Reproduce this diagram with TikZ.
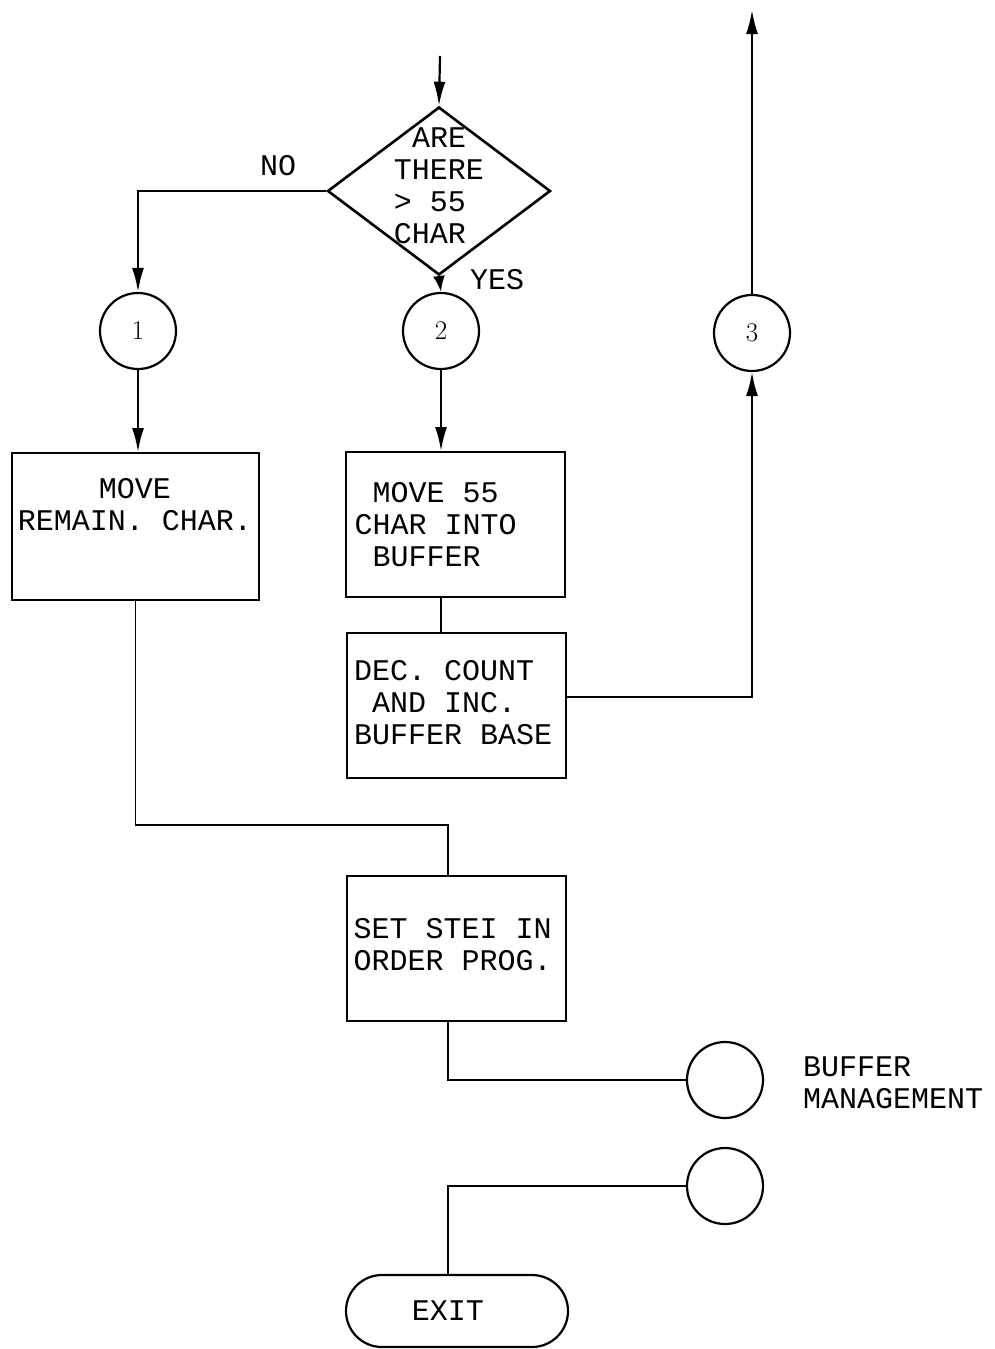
\documentclass[tikz,border=0pt]{standalone}
\usepackage{fontspec}
\setmonofont{Liberation Mono}
\usetikzlibrary{arrows.meta,shapes.geometric}

\begin{document}
\begin{tikzpicture}[x=1pt,y=-1pt,
    font=\ttfamily\fontsize{30}{32}\selectfont,
    line/.style={line width=2.2pt},
    flow/.style={line, -{Latex[length=24pt,width=12pt]}},
    shortflow/.style={line, -{Latex[length=16pt,width=12pt]}},
    box/.style={draw, line width=2pt, minimum width=219pt, minimum height=145pt, inner sep=0pt},
    conn/.style={draw, circle, line width=2.2pt, minimum size=76pt, inner sep=0pt, font=\rmfamily\fontsize{27}{27}\selectfont},
    txt/.style={align=left, inner sep=0pt}]

    \useasboundingbox (0,0) rectangle (995,1349);

    % Decision
    \node[draw, diamond, line width=2.6pt, minimum width=223pt, minimum height=168pt, inner sep=0pt] (test) at (439,191) {};
    \node[txt] (testtxt) at (439,186) {~ARE\\THERE\\> 55\\CHAR};
    \coordinate (entry) at (440,56);
    \node (no) at (278,166) {NO};
    \node (yes) at (497,280) {YES};

    % Connectors
    \node[conn] (c1) at (138,331) {1};
    \node[conn] (c2) at (441,331) {2};
    \node[conn] (c3) at (752,333) {3};
    \coordinate (out) at (752,10);

    % Boxes
    \node[box, minimum width=247pt, minimum height=147pt] (remain) at (135.5,526.5) {};
    \node[align=center, inner sep=0pt] (remaintxt) at (135,505) {MOVE\\REMAIN. CHAR.};
    \node[box] (move) at (455,524.5) {};
    \node[txt, anchor=west] (movetxt) at ([xshift=10pt]move.west) {~MOVE 55\\CHAR INTO\\~BUFFER};
    \node[box] (dec) at (456.5,705) {};
    \node[txt, anchor=west] (dectxt) at ([xshift=8pt,yshift=2pt]dec.west) {DEC. COUNT\\~AND INC.\\BUFFER BASE};
    \node[box] (stei) at (456,948.5) {};
    \node[txt, anchor=west] (steitxt) at ([xshift=8pt,yshift=4pt]stei.west) {SET STEI IN\\ORDER PROG.};
    \coordinate (merge) at (448,825);

    % Buffer management and exit
    \node[conn] (bm) at (725,1080) {};
    \node[txt, anchor=west] (bmtxt) at (803,1083) {BUFFER\\MANAGEMENT};
    \node[conn] (back) at (725,1186) {};
    \node[draw, line width=2.2pt, rounded corners=36pt, minimum width=222pt, minimum height=72pt] (exit) at (457,1311) {EXIT~~};

    % Flow lines
    \draw[flow] (entry) -- (test.north);
    \draw[flow] (test.west) -| (c1.north);
    \draw[shortflow] (test.south) -- (c2.north);
    \draw[flow] (c1.south) -- (c1.south |- remain.north);
    \draw[flow] (c2.south) -- (c2.south |- move.north);
    \draw[line] (move.south -| c2) -- (dec.north -| c2);
    \draw[flow] ([yshift=8pt]dec.east) -| (c3.south);
    \draw[flow] (c3.north) -- (out);
    \draw[line, line width=1.6pt] (remain.south) |- (merge) -- (merge |- stei.north);
    \draw[line] (stei.south -| merge) |- (bm.west);
    \draw[line] (back.west) -| (exit.north -| merge);

\end{tikzpicture}
\end{document}
